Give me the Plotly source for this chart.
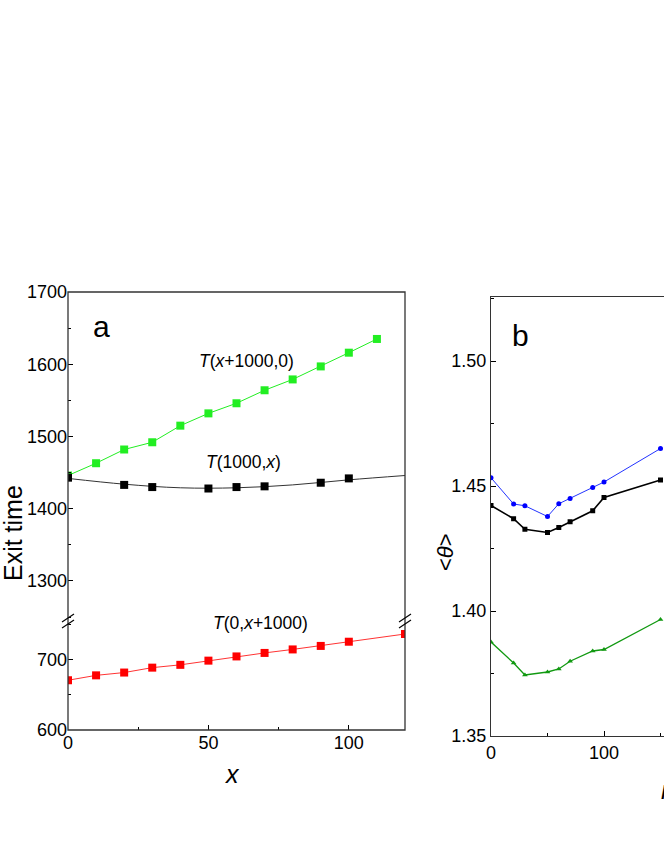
import plotly.graph_objects as go

# ---- panel a data ----
x_a = [0, 10, 20, 30, 40, 50, 60, 70, 80, 90, 100, 110]
t_x1000_0 = [1446, 1463, 1482, 1492, 1515, 1532, 1546, 1564, 1579, 1597, 1616, 1635]

x_a_black = [0, 20, 30, 50, 60, 70, 90, 100]
t_1000_x = [1443, 1433, 1430, 1428, 1430, 1431, 1436, 1442]
# smooth fit through the black points
x_a_fit = [0, 20, 40, 60, 80, 100, 120]
t_1000_x_fit = [1442, 1434, 1429, 1429, 1433, 1440, 1446]

x_a_red = [0, 10, 20, 30, 40, 50, 60, 70, 80, 90, 100, 120]
t_0_x1000 = [671, 678, 682, 689, 693, 699, 705, 710, 715, 720, 726, 737]

# ---- panel b data ----
x_b = [0, 20, 30, 50, 60, 70, 90, 100, 150]
theta_blue = [1.4533, 1.4428, 1.4421, 1.4378, 1.4429, 1.4450, 1.4494, 1.4516, 1.4650]
theta_black = [1.4422, 1.4369, 1.4327, 1.4314, 1.4334, 1.4357, 1.4401, 1.4454, 1.4524]
theta_green = [1.3876, 1.3792, 1.3744, 1.3756, 1.3768, 1.3799, 1.3840, 1.3846, 1.3966]

W, H = 664, 860
FONT = "Liberation Sans, Arial, sans-serif"


def px(xp):
    return xp / W


def py(yp):
    return (H - yp) / H


a_left, a_right = px(68), px(405)
a_bot, a_top, a_brk = py(730), py(292), py(620)
b_left = px(491)
b_bot, b_top = py(736), py(297)

fig = go.Figure()

sq = dict(symbol="square", size=8)
fig.add_trace(go.Scatter(x=x_a, y=t_x1000_0, xaxis="x", yaxis="y2", mode="lines+markers",
                         line=dict(color="#22ee22", width=1), marker=dict(color="#22ee22", **sq)))
fig.add_trace(go.Scatter(x=x_a_fit, y=t_1000_x_fit, xaxis="x", yaxis="y2", mode="lines",
                         line=dict(color="#333333", width=1, shape="spline")))
fig.add_trace(go.Scatter(x=x_a_black, y=t_1000_x, xaxis="x", yaxis="y2", mode="markers",
                         marker=dict(color="black", **sq)))
fig.add_trace(go.Scatter(x=x_a_red, y=t_0_x1000, xaxis="x", yaxis="y", mode="lines+markers",
                         line=dict(color="#ff3333", width=1), marker=dict(color="#ff0000", **sq)))

fig.add_trace(go.Scatter(x=x_b, y=theta_blue, xaxis="x2", yaxis="y3", mode="lines+markers",
                         line=dict(color="#2233ff", width=1),
                         marker=dict(color="#0000ff", symbol="circle", size=5)))
fig.add_trace(go.Scatter(x=x_b, y=theta_black, xaxis="x2", yaxis="y3", mode="lines+markers",
                         line=dict(color="black", width=1.6),
                         marker=dict(color="black", symbol="square", size=5)))
fig.add_trace(go.Scatter(x=x_b, y=theta_green, xaxis="x2", yaxis="y3", mode="lines+markers",
                         line=dict(color="#119911", width=1.3),
                         marker=dict(color="#119911", symbol="triangle-up", size=5)))

tick_common = dict(ticks="inside", ticklen=5, tickwidth=1, tickcolor="black",
                   showgrid=False, zeroline=False, automargin=False,
                   tickfont=dict(family=FONT, size=18, color="black"))

# panel b x range runs to the window edge (cut off like the reference)
b_xmax = (W - 491) / 1.13

fig.update_layout(
    width=W, height=H,
    margin=dict(l=0, r=0, t=0, b=0),
    paper_bgcolor="white", plot_bgcolor="white",
    showlegend=False,
    xaxis=dict(domain=[a_left, a_right], range=[0, 120], anchor="y",
               tickvals=[0, 50, 100], minor=dict(ticks="inside", ticklen=3, dtick=25, tickcolor="black"),
               **tick_common),
    yaxis=dict(domain=[a_bot, a_brk], range=[600, 757], anchor="x",
               tickvals=[600, 700], minor=dict(ticks="inside", ticklen=3, dtick=50, tickcolor="black"),
               **tick_common),
    yaxis2=dict(domain=[a_brk, a_top], range=[1246, 1700], anchor="x",
                tickvals=[1300, 1400, 1500, 1600, 1700],
                minor=dict(ticks="inside", ticklen=3, dtick=50, tickcolor="black"),
                **tick_common),
    xaxis2=dict(domain=[b_left, 1.0], range=[0, b_xmax], anchor="y3",
                showline=True, linecolor="#333333", linewidth=1.3, mirror=True,
                tickvals=[0, 100], minor=dict(ticks="inside", ticklen=3, dtick=50, tickcolor="black"),
                **tick_common),
    yaxis3=dict(domain=[b_bot, b_top], range=[1.35, 1.5256], anchor="x2",
                showline=True, linecolor="#333333", linewidth=1.3,
                tickvals=[1.35, 1.40, 1.45, 1.50], tickformat=".2f",
                minor=dict(ticks="inside", ticklen=3, dtick=0.025, tickcolor="black"),
                **tick_common),
)

# frame of panel a
fig.add_shape(type="rect", xref="paper", yref="paper", x0=a_left, x1=a_right, y0=a_bot, y1=a_top,
              line=dict(color="#333333", width=1.3))

# axis break marks
for xb in (68, 405):
    for dy in (-3, 3):
        fig.add_shape(type="line", xref="paper", yref="paper",
                      x0=px(xb - 6), y0=py(621 + dy + 4), x1=px(xb + 6), y1=py(621 + dy - 4),
                      line=dict(color="black", width=1.2))

ann = []
ann.append(dict(text="a", x=px(101), y=py(326), font=dict(size=30)))
ann.append(dict(text="b", x=px(520), y=py(335), font=dict(size=30)))
ann.append(dict(text="<i>T</i>(<i>x</i>+1000,0)", x=px(246), y=py(361), font=dict(size=17.5)))
ann.append(dict(text="<i>T</i>(1000,<i>x</i>)", x=px(243), y=py(462), font=dict(size=17.5)))
ann.append(dict(text="<i>T</i>(0,<i>x</i>+1000)", x=px(260), y=py(623), font=dict(size=17.5)))
ann.append(dict(text="Exit time", x=px(13), y=py(533), textangle=-90, font=dict(size=25)))
ann.append(dict(text="<i>x</i>", x=px(232), y=py(774), font=dict(size=25)))
ann.append(dict(text="&lt;<i>θ</i>&gt;", x=px(445), y=py(552), textangle=-90, font=dict(size=22)))
ann.append(dict(text="<i>n</i>", x=px(668), y=py(790), font=dict(size=25)))
for a in ann:
    a.update(xref="paper", yref="paper", showarrow=False, xanchor="center", yanchor="middle")
    a["font"].update(family=FONT, color="black")
    fig.add_annotation(**a)

# drop the default page margin so the figure fills the window from its top-left corner
fig.write_html("out.html", config={"displayModeBar": False},
               post_script="document.body.style.margin='0px';")
